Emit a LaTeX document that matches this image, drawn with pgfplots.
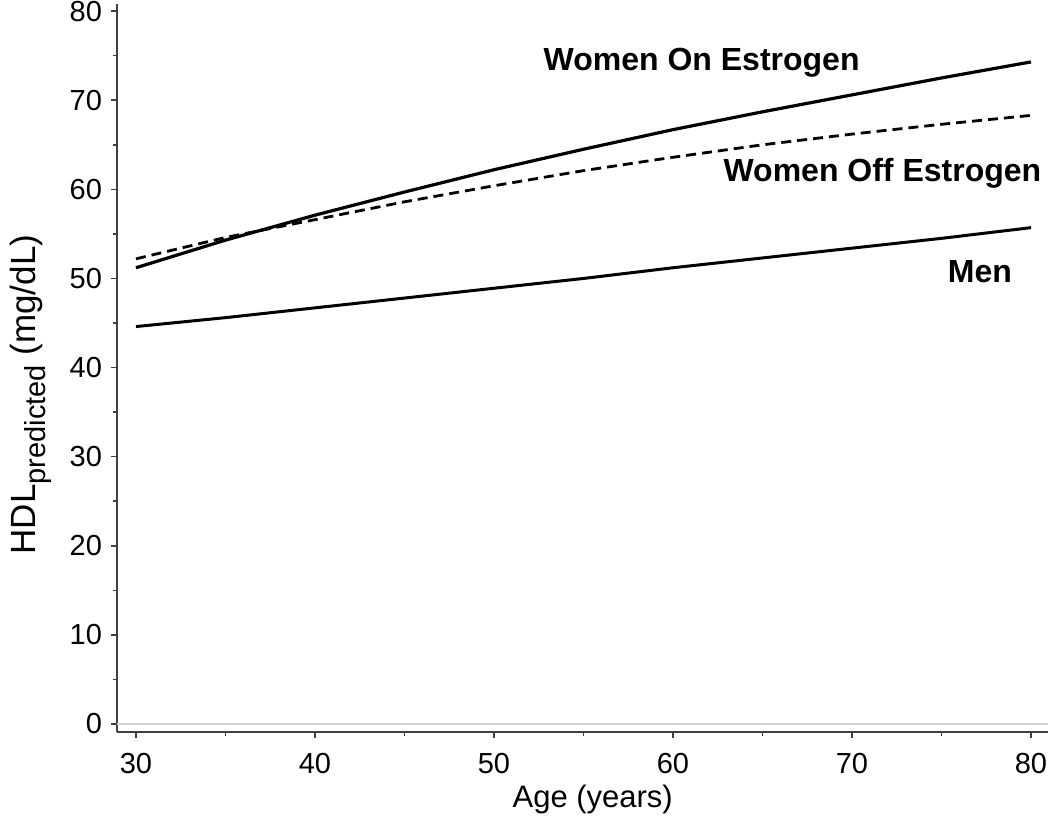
\documentclass[border=0pt]{standalone}
\usepackage{pgfplots}
\pgfplotsset{compat=1.18}
\usepackage{fontspec}
\setmainfont{Liberation Sans}
\begin{document}
\begin{tikzpicture}
\useasboundingbox (-58.5pt,-43.5pt) rectangle (466.5pt,366pt);
\begin{axis}[
  at={(0,0)}, anchor=south west,
  scale only axis,
  width=465.5pt, height=364pt,
  xmin=28.94, xmax=80.95,
  ymin=-0.9, ymax=80.8,
  axis x line*=bottom, axis y line*=left,
  axis line style={line width=1pt, black!75},
  xtick={30,40,...,80}, ytick={0,10,...,80},
  minor xtick={35,45,...,75}, minor ytick={5,15,...,75},
  tick align=outside,
  major tick length=3pt, minor tick length=2pt,
  tick style={line width=0.8pt, black!75},
  /pgf/number format/assume math mode=true,
  ticklabel style={font=\fontsize{14.5}{17}\selectfont},
  xticklabel style={yshift=-4pt},
  yticklabel style={xshift=-1pt},
  xlabel={Age (years)},
  ylabel={HDL\raisebox{-5pt}{\fontsize{14.5}{17}\selectfont predicted} (mg/dL)},
  xlabel style={font=\fontsize{15.5}{18}\selectfont, at={(axis description cs:0.511,0)}, anchor=center, yshift=-33.5pt},
  ylabel style={font=\fontsize{17.5}{20}\selectfont, at={(axis description cs:-0.1149,0.4636)}, anchor=north, inner sep=0pt},
  clip=false,
]
\addplot[gray!35, line width=1pt] coordinates {(28.94,0) (80.95,0)};
% Women on estrogen
\addplot[black, line width=1.6pt] coordinates {
(30,51.2) (35,54.3) (40,57.1) (45,59.7) (50,62.2) (55,64.5) (60,66.7) (65,68.7) (70,70.6) (75,72.5) (80,74.3)};
% Women off estrogen
\addplot[black, line width=1.4pt, dash pattern=on 5pt off 3pt] coordinates {
(30,52.2) (35,54.6) (40,56.6) (45,58.6) (50,60.4) (55,62.1) (60,63.6) (65,65.0) (70,66.2) (75,67.3) (80,68.3)};
% Men
\addplot[black, line width=1.5pt] coordinates {
(30,44.6) (35,45.6) (40,46.7) (45,47.8) (50,48.9) (55,50.0) (60,51.2) (65,52.3) (70,53.4) (75,54.5) (80,55.7)};
\node[font=\bfseries\fontsize{16}{19}\selectfont] at (axis cs:61.6,74.2) {Women On Estrogen};
\node[font=\bfseries\fontsize{16}{19}\selectfont] at (axis cs:71.7,61.8) {Women Off Estrogen};
\node[font=\bfseries\fontsize{16}{19}\selectfont] at (axis cs:77.15,50.8) {Men};
\end{axis}
\end{tikzpicture}
\end{document}
